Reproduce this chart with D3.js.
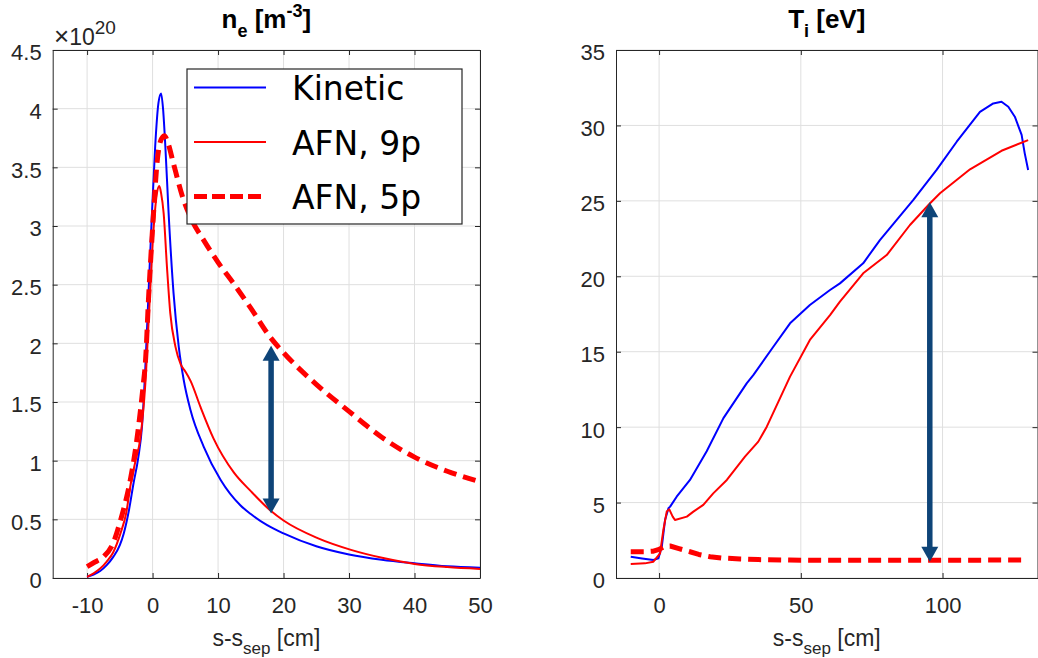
<!DOCTYPE html>
<html>
<head>
<meta charset="utf-8">
<script src="https://cdn.jsdelivr.net/npm/d3@7"></script>
<style>
  body { margin: 0; background: #fff; }
  svg { display: block; font-family: "Liberation Sans", Arial, Helvetica, sans-serif; }
  .tick text { fill: #262626; font-size: 22px; }
</style>
</head>
<body>
<script>
// ---- left panel: electron density (x1e20 m^-3) ----
const neS_kin = [-10,-9,-8,-7,-6,-5,-4.4,-3.6,-2.9,-2.2,-1.6,-1.1,-0.6,-0.1,0.4,0.9,1.3,1.6,1.95,2.45,3.2,4.0,4.75,5.8,7.8,10.4,13.4,15,17.5,20,25,30,35,40,45,50];
const neKin   = [0.01,0.03,0.06,0.11,0.18,0.28,0.38,0.58,0.81,1.02,1.3,1.8,2.45,3.1,3.68,4.05,4.13,4.0,3.68,3.11,2.43,1.97,1.69,1.43,1.12,0.835,0.62,0.545,0.45,0.38,0.27,0.2,0.155,0.125,0.1,0.088];
const neS_9p  = [-10,-9,-8,-7,-6,-4.9,-4,-3.4,-2.6,-1.9,-1.1,-0.5,0.15,0.67,1.03,1.3,1.69,2.2,2.7,3.5,4.3,5.0,5.8,7.3,9.3,12.4,15,18,20,25.2,30.3,35.4,40,45,50];
const ne9p    = [0.01,0.04,0.08,0.14,0.22,0.38,0.56,0.78,1.0,1.18,1.66,2.3,2.97,3.28,3.34,3.28,3.11,2.65,2.26,1.97,1.82,1.76,1.68,1.46,1.19,0.9,0.74,0.575,0.49,0.34,0.24,0.168,0.12,0.093,0.077];
const neS_5p  = [-10,-9,-7.5,-6,-4.9,-4,-3.4,-2.4,-1.4,-1.1,-0.6,0.15,0.67,1.2,1.8,2.4,3.2,4.75,6,7.8,10,12.5,15,18,20,25,30,35,40,45,50];
const ne5p    = [0.097,0.13,0.18,0.3,0.49,0.68,0.835,1.18,1.66,1.83,2.4,3.11,3.53,3.72,3.77,3.7,3.53,3.22,3.05,2.88,2.69,2.5,2.3,2.05,1.92,1.65,1.42,1.2,1.03,0.91,0.82];
const neXTicks = [-10, 0, 10, 20, 30, 40, 50];
const neYTicks = [0, 0.5, 1, 1.5, 2, 2.5, 3, 3.5, 4, 4.5];

// ---- right panel: ion temperature (eV) ----
const tiS_kin = [-10,-6,-2,-0.25,0.95,2.1,3.3,3.9,6.2,10.9,16.8,22.7,30.9,33.3,40.3,46.2,53.2,60.3,63.8,72,77.9,89.7,97.9,105,113.2,117.9,120.8,123.2,125.5,127.9,129,130.2];
const tiKin   = [1.41,1.3,1.19,1.3,2.07,3.84,4.62,4.73,5.39,6.5,8.4,10.6,12.9,13.46,15.33,16.88,18.1,19.09,19.53,20.86,22.4,25.06,27.05,28.92,30.9,31.46,31.57,31.24,30.58,29.37,28.15,27.05];
const tiS_9p  = [-10,-5,-2,0.35,1.5,2.7,3.6,4.8,5.6,9.8,12.1,15.6,19.1,23.9,30.3,35,38,46.2,53.2,60.3,63.8,72,80.3,88.5,95.6,99.1,109.7,120.8,130.2];
const ti9p    = [0.93,0.97,1.08,1.64,3.18,4.4,4.55,4.07,3.84,4.07,4.4,4.85,5.61,6.5,8.04,9.04,10.03,13.35,15.78,17.43,18.32,20.2,21.41,23.4,24.84,25.5,27.09,28.32,29.03];
const tiS_5p  = [-10,-5,-2,0,2,3.9,7,10.9,14,18,22,28.6,35,46,60,75.5,100,130];
const ti5p    = [1.74,1.74,1.78,1.9,2.1,2.12,1.95,1.74,1.56,1.41,1.33,1.26,1.22,1.19,1.17,1.17,1.18,1.19];
const tiXTicks = [0, 50, 100];
const tiYTicks = [0, 5, 10, 15, 20, 25, 30, 35];

// arrows (x, low end, high end) per panel
const arrowX  = [18.1, 95.5];
const arrowLo = [0.55, 1.08];
const arrowHi = [1.98, 24.9];

const legendNames = ["Kinetic", "AFN, 9p", "AFN, 5p"];

const W = 1038, H = 658;
const axisColor = "#262626";
const gridColor = "#dfdfdf";
const arrowColor = "#0e4478";

const svg = d3.select("body").append("svg")
  .attr("width", W).attr("height", H);

const zip = (xs, ys) => xs.map((x, i) => ({ x: x, y: ys[i] }));

function panel(o) {
  const x = d3.scaleLinear().domain(o.xDom).range(o.xRange);
  const y = d3.scaleLinear().domain(o.yDom).range([578, 50]);
  const g = svg.append("g");
  const [x0, x1] = o.xRange;

  // grid
  g.append("g").selectAll("line").data(o.xTicks).enter().append("line")
    .attr("x1", d => x(d)).attr("x2", d => x(d))
    .attr("y1", 50).attr("y2", 578)
    .attr("stroke", gridColor).attr("stroke-width", 1);
  g.append("g").selectAll("line").data(o.yTicks).enter().append("line")
    .attr("x1", x0).attr("x2", x1)
    .attr("y1", d => y(d)).attr("y2", d => y(d))
    .attr("stroke", gridColor).attr("stroke-width", 1);

  // axes (ticks pointing inwards, box on)
  const fmt = d => String(d);
  const xb = g.append("g").attr("transform", `translate(0,578)`)
    .call(d3.axisBottom(x).tickValues(o.xTicks).tickFormat(fmt).tickSizeInner(-5).tickSizeOuter(0).tickPadding(19));
  g.append("g").attr("transform", `translate(0,50)`)
    .call(d3.axisTop(x).tickValues(o.xTicks).tickFormat("").tickSizeInner(-5).tickSizeOuter(0));
  const yl = g.append("g").attr("transform", `translate(${x0},0)`)
    .call(d3.axisLeft(y).tickValues(o.yTicks).tickFormat(fmt).tickSizeInner(-5).tickSizeOuter(0).tickPadding(11));
  g.append("g").attr("transform", `translate(${x1},0)`)
    .call(d3.axisRight(y).tickValues(o.yTicks).tickFormat("").tickSizeInner(-5).tickSizeOuter(0));
  g.selectAll(".domain").attr("stroke", axisColor).attr("stroke-width", 1);
  g.selectAll(".tick line").attr("stroke", axisColor);
  yl.selectAll(".tick text").attr("dy", "0.45em");
  xb.selectAll(".tick text").attr("dy", "0.71em");

  // curves
  const clipId = "clip" + o.id;
  svg.append("clipPath").attr("id", clipId).append("rect")
    .attr("x", x0).attr("y", 50).attr("width", x1 - x0).attr("height", 528);
  const line = d3.line().x(d => x(d.x)).y(d => y(d.y)).curve(o.curve);
  const lines = g.append("g").attr("clip-path", `url(#${clipId})`);
  o.series.forEach(s => {
    lines.append("path").datum(s.pts)
      .attr("d", line).attr("fill", "none")
      .attr("stroke", s.color).attr("stroke-width", s.w)
      .attr("stroke-dasharray", s.dash || null)
      .attr("stroke-linejoin", "round");
  });

  // double-headed arrow
  const ax = x(o.arrow[0]), ylo = y(o.arrow[1]), yhi = y(o.arrow[2]);
  const hl = 15, hw = 8.5;
  g.append("line").attr("x1", ax).attr("x2", ax)
    .attr("y1", yhi + hl - 1).attr("y2", ylo - hl + 1)
    .attr("stroke", arrowColor).attr("stroke-width", 5.5);
  g.append("path").attr("d", `M${ax},${yhi} L${ax - hw},${yhi + hl} L${ax + hw},${yhi + hl} Z`).attr("fill", arrowColor);
  g.append("path").attr("d", `M${ax},${ylo} L${ax - hw},${ylo - hl} L${ax + hw},${ylo - hl} Z`).attr("fill", arrowColor);

  // title
  const cx = (x0 + x1) / 2;
  const t = svg.append("text").attr("x", cx).attr("y", 28)
    .attr("text-anchor", "middle").attr("font-weight", "bold")
    .attr("font-size", 26).attr("fill", "#000");
  o.title(t);

  // x label
  const xlab = svg.append("text").attr("x", cx).attr("y", 646)
    .attr("text-anchor", "middle").attr("font-size", 23).attr("fill", axisColor);
  xlab.append("tspan").text("s-s");
  xlab.append("tspan").attr("dy", 8).attr("font-size", 17).text("sep");
  xlab.append("tspan").attr("dy", -8).text(" [cm]");

  return { x: x, y: y, g: g };
}

panel({
  id: "L", xDom: [-15.25, 50], xRange: [52.7, 480], yDom: [0, 4.5],
  xTicks: neXTicks, yTicks: neYTicks, curve: d3.curveMonotoneX,
  series: [
    { pts: zip(neS_kin, neKin), color: "#0000ff", w: 2 },
    { pts: zip(neS_9p, ne9p), color: "#ff0000", w: 2 },
    { pts: zip(neS_5p, ne5p), color: "#ff0000", w: 5, dash: "13,7" }
  ],
  arrow: [arrowX[0], arrowLo[0], arrowHi[0]],
  title: t => {
    t.append("tspan").text("n");
    t.append("tspan").attr("dy", 9).attr("font-size", 18).text("e");
    t.append("tspan").attr("dy", -9).text(" [m");
    t.append("tspan").attr("dy", -11).attr("font-size", 18).text("-3");
    t.append("tspan").attr("dy", 11).text("]");
  }
});

panel({
  id: "R", xDom: [-15.2, 133.5], xRange: [616, 1037.5], yDom: [0, 35],
  xTicks: tiXTicks, yTicks: tiYTicks, curve: d3.curveLinear,
  series: [
    { pts: zip(tiS_kin, tiKin), color: "#0000ff", w: 2 },
    { pts: zip(tiS_9p, ti9p), color: "#ff0000", w: 2 },
    { pts: zip(tiS_5p, ti5p), color: "#ff0000", w: 5, dash: "13,7" }
  ],
  arrow: [arrowX[1], arrowLo[1], arrowHi[1]],
  title: t => {
    t.append("tspan").text("T");
    t.append("tspan").attr("dy", 9).attr("font-size", 18).text("i");
    t.append("tspan").attr("dy", -9).text(" [eV]");
  }
});

// exponent label
const ex = svg.append("text").attr("x", 54).attr("y", 45).attr("fill", axisColor).attr("font-size", 23);
ex.append("tspan").attr("font-size", 26).text("\u00d7");
ex.append("tspan").text("10");
ex.append("tspan").attr("dy", -11).attr("font-size", 19).text("20");

// legend
const leg = svg.append("g");
leg.append("rect").attr("x", 187).attr("y", 69).attr("width", 275).attr("height", 155)
  .attr("fill", "#fff").attr("stroke", axisColor).attr("stroke-width", 1.2);
const legStyle = [
  { color: "#0000ff", w: 2 },
  { color: "#ff0000", w: 2 },
  { color: "#ff0000", w: 5, dash: "13,5" }
];
legendNames.forEach((name, i) => {
  const yy = 87.5 + i * 54.5;
  leg.append("line").attr("x1", 194).attr("x2", 266).attr("y1", yy).attr("y2", yy)
    .attr("stroke", legStyle[i].color).attr("stroke-width", legStyle[i].w)
    .attr("stroke-dasharray", legStyle[i].dash || null);
  leg.append("text").attr("x", 292).attr("y", yy + 12.5)
    .attr("font-family", "DejaVu Sans, Verdana, sans-serif")
    .attr("font-size", 33).attr("fill", "#000").text(name);
});
</script>
</body>
</html>
